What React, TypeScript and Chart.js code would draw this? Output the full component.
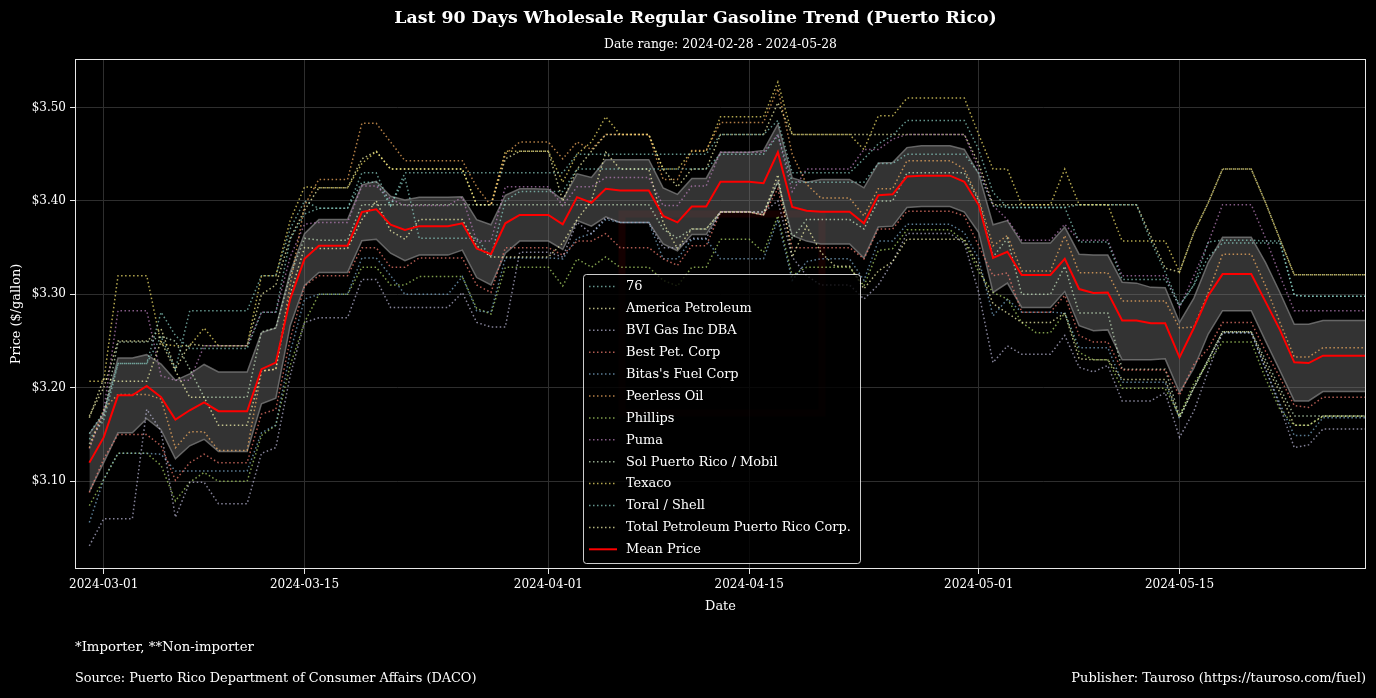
import React, { useEffect, useRef } from 'react';
import { Chart, registerables } from 'chart.js';

Chart.register(...registerables);

// ---------- data ----------
const AXIS_START = '2024-02-28';
const AXIS_END = '2024-05-28';
const FIRST_DATA_DATE = '2024-02-29';
const xTickDates = ['2024-03-01', '2024-03-15', '2024-04-01', '2024-04-15', '2024-05-01', '2024-05-15'];
const yTickValues = [3.1, 3.2, 3.3, 3.4, 3.5];
const Y_MIN = 3.0062;
const Y_MAX = 3.5518;

const companies = [
  '76', 'America Petroleum', 'BVI Gas Inc DBA', 'Best Pet. Corp', "Bitas's Fuel Corp", 'Peerless Oil',
  'Phillips', 'Puma', 'Sol Puerto Rico / Mobil', 'Texaco', 'Toral / Shell', 'Total Petroleum Puerto Rico Corp.',
];
const companyColors = [
  '#8dd3c7', '#ffffb3', '#bebada', '#fb8072', '#80b1d3', '#fdb462',
  '#b3de69', '#bc80bd', '#ccebc5', '#ffed6f', '#8dd3c7', '#ffffb3',
];

const price76 = [
  3.151, 3.174, 3.226, 3.226, 3.226, 3.281, 3.256, 3.242, 3.242, 3.242, 3.242, 3.242, 3.281, 3.281, 3.359, 3.386,
  3.392, 3.392, 3.392, 3.430, 3.430, 3.395, 3.430, 3.430, 3.430, 3.430, 3.430, 3.430, 3.430, 3.430, 3.430, 3.430, 3.430,
  3.430, 3.450, 3.450, 3.450, 3.450, 3.450, 3.450, 3.450, 3.450, 3.450, 3.450, 3.471, 3.471, 3.471, 3.471, 3.486, 3.430,
  3.430, 3.430, 3.430, 3.430, 3.445, 3.461, 3.470, 3.486, 3.486, 3.486, 3.486, 3.486, 3.455, 3.409, 3.393,
  3.393, 3.393, 3.393, 3.393, 3.356, 3.356, 3.356, 3.316, 3.316, 3.316, 3.316, 3.288, 3.310,
  3.356, 3.358, 3.358, 3.358, 3.357, 3.357, 3.299, 3.298, 3.298, 3.298, 3.298, 3.298,
];
const priceAmerica = [
  3.168, 3.210, 3.207, 3.207, 3.207, 3.250, 3.218, 3.190, 3.190, 3.160, 3.160, 3.160, 3.218, 3.220, 3.300, 3.350,
  3.349, 3.349, 3.349, 3.380, 3.400, 3.368, 3.359, 3.380, 3.380, 3.380, 3.380, 3.352, 3.340, 3.340, 3.340, 3.340, 3.340,
  3.355, 3.380, 3.400, 3.452, 3.434, 3.434, 3.434, 3.377, 3.349, 3.370, 3.370, 3.388, 3.388, 3.388, 3.385, 3.428, 3.340,
  3.373, 3.345, 3.330, 3.330, 3.306, 3.325, 3.335, 3.359, 3.359, 3.359, 3.359, 3.359, 3.330, 3.290, 3.280,
  3.270, 3.270, 3.270, 3.280, 3.231, 3.230, 3.230, 3.209, 3.209, 3.209, 3.209, 3.168, 3.200,
  3.230, 3.260, 3.260, 3.260, 3.225, 3.195, 3.160, 3.160, 3.170, 3.170, 3.170, 3.170,
];
const priceBVI = [
  3.031, 3.060, 3.060, 3.060, 3.177, 3.154, 3.0615, 3.099, 3.099, 3.076, 3.076, 3.076, 3.130, 3.136, 3.213, 3.270,
  3.275, 3.275, 3.275, 3.316, 3.316, 3.286, 3.286, 3.286, 3.286, 3.286, 3.302, 3.270, 3.265, 3.265, 3.345, 3.345, 3.345,
  3.340, 3.377, 3.365, 3.382, 3.377, 3.377, 3.377, 3.350, 3.350, 3.360, 3.360, 3.388, 3.388, 3.388, 3.388, 3.400, 3.340,
  3.320, 3.310, 3.310, 3.310, 3.295, 3.310, 3.335, 3.365, 3.365, 3.365, 3.365, 3.355, 3.302, 3.227, 3.245,
  3.236, 3.236, 3.236, 3.256, 3.222, 3.217, 3.224, 3.186, 3.186, 3.186, 3.195, 3.147, 3.175,
  3.218, 3.259, 3.259, 3.259, 3.220, 3.180, 3.136, 3.139, 3.156, 3.156, 3.156, 3.156,
];
const priceBest = [
  3.088, 3.124, 3.150, 3.150, 3.150, 3.138, 3.101, 3.120, 3.129, 3.120, 3.120, 3.120, 3.172, 3.177, 3.252, 3.309,
  3.320, 3.320, 3.320, 3.350, 3.350, 3.329, 3.329, 3.339, 3.339, 3.339, 3.339, 3.310, 3.302, 3.350, 3.350, 3.350, 3.350,
  3.342, 3.357, 3.357, 3.365, 3.350, 3.350, 3.350, 3.338, 3.331, 3.352, 3.352, 3.388, 3.388, 3.388, 3.385, 3.413, 3.350,
  3.350, 3.350, 3.350, 3.350, 3.338, 3.370, 3.370, 3.389, 3.389, 3.389, 3.389, 3.384, 3.352, 3.320, 3.323,
  3.281, 3.281, 3.281, 3.299, 3.256, 3.249, 3.249, 3.219, 3.219, 3.219, 3.219, 3.192, 3.225,
  3.242, 3.270, 3.270, 3.270, 3.239, 3.211, 3.181, 3.179, 3.190, 3.190, 3.190, 3.190,
];
const priceBitas = [
  3.056, 3.102, 3.130, 3.130, 3.130, 3.129, 3.111, 3.111, 3.111, 3.111, 3.111, 3.111, 3.152, 3.160, 3.238, 3.295,
  3.300, 3.300, 3.300, 3.339, 3.339, 3.320, 3.300, 3.300, 3.300, 3.300, 3.319, 3.2825, 3.281, 3.339, 3.339, 3.339, 3.339,
  3.338, 3.360, 3.365, 3.380, 3.377, 3.377, 3.377, 3.338, 3.338, 3.359, 3.359, 3.338, 3.338, 3.338, 3.338, 3.380, 3.315,
  3.335, 3.338, 3.338, 3.338, 3.315, 3.357, 3.357, 3.375, 3.375, 3.375, 3.375, 3.366, 3.338, 3.277, 3.295,
  3.281, 3.281, 3.281, 3.280, 3.243, 3.243, 3.243, 3.206, 3.206, 3.206, 3.206, 3.167, 3.200,
  3.230, 3.259, 3.259, 3.259, 3.220, 3.183, 3.149, 3.149, 3.168, 3.168, 3.168, 3.168,
];
const pricePeerless = [
  3.136, 3.177, 3.193, 3.193, 3.193, 3.188, 3.136, 3.153, 3.153, 3.133, 3.133, 3.133, 3.218, 3.220, 3.310, 3.395,
  3.423, 3.423, 3.423, 3.483, 3.483, 3.463, 3.443, 3.443, 3.443, 3.443, 3.443, 3.415, 3.395, 3.450, 3.463, 3.463, 3.463,
  3.445, 3.463, 3.455, 3.471, 3.471, 3.471, 3.471, 3.423, 3.423, 3.454, 3.454, 3.484, 3.484, 3.484, 3.484, 3.520, 3.450,
  3.418, 3.403, 3.403, 3.403, 3.384, 3.413, 3.413, 3.443, 3.443, 3.443, 3.443, 3.434, 3.402, 3.352, 3.363,
  3.325, 3.325, 3.325, 3.363, 3.323, 3.323, 3.323, 3.293, 3.293, 3.293, 3.293, 3.264, 3.265,
  3.302, 3.343, 3.343, 3.343, 3.309, 3.270, 3.233, 3.233, 3.243, 3.243, 3.243, 3.243,
];
const pricePhillips = [
  3.074, 3.102, 3.130, 3.130, 3.130, 3.117, 3.079, 3.099, 3.1095, 3.100, 3.100, 3.100, 3.149, 3.160, 3.224, 3.270,
  3.300, 3.300, 3.300, 3.329, 3.329, 3.310, 3.310, 3.319, 3.319, 3.319, 3.319, 3.285, 3.279, 3.329, 3.329, 3.329, 3.329,
  3.309, 3.338, 3.329, 3.340, 3.329, 3.329, 3.329, 3.315, 3.309, 3.329, 3.329, 3.359, 3.359, 3.359, 3.345, 3.384, 3.320,
  3.329, 3.329, 3.329, 3.329, 3.309, 3.347, 3.349, 3.369, 3.369, 3.369, 3.369, 3.357, 3.324, 3.302, 3.295,
  3.270, 3.259, 3.259, 3.280, 3.238, 3.230, 3.230, 3.1995, 3.1995, 3.1995, 3.1995, 3.170, 3.205,
  3.227, 3.249, 3.249, 3.249, 3.210, 3.177, 3.160, 3.160, 3.1695, 3.1695, 3.1695, 3.1695,
];
const pricePuma = [
  3.135, 3.175, 3.2825, 3.2825, 3.2825, 3.213, 3.208, 3.208, 3.245, 3.245, 3.245, 3.245, 3.281, 3.281, 3.340, 3.375,
  3.377, 3.377, 3.377, 3.416, 3.416, 3.402, 3.395, 3.395, 3.395, 3.395, 3.404, 3.357, 3.357, 3.415, 3.415, 3.415, 3.415,
  3.395, 3.415, 3.415, 3.425, 3.425, 3.425, 3.425, 3.395, 3.395, 3.416, 3.416, 3.452, 3.452, 3.452, 3.452, 3.471, 3.410,
  3.434, 3.434, 3.434, 3.434, 3.455, 3.455, 3.466, 3.471, 3.471, 3.471, 3.471, 3.471, 3.434, 3.395, 3.380,
  3.358, 3.358, 3.358, 3.375, 3.358, 3.358, 3.358, 3.320, 3.320, 3.320, 3.320, 3.286, 3.320,
  3.355, 3.396, 3.396, 3.396, 3.360, 3.320, 3.2825, 3.2825, 3.2825, 3.2825, 3.2825, 3.2825,
];
const priceSol = [
  3.140, 3.170, 3.249, 3.249, 3.249, 3.255, 3.250, 3.220, 3.190, 3.190, 3.190, 3.190, 3.260, 3.264, 3.320, 3.360,
  3.358, 3.358, 3.358, 3.396, 3.396, 3.396, 3.396, 3.396, 3.396, 3.396, 3.396, 3.396, 3.396, 3.396, 3.396, 3.396, 3.396,
  3.396, 3.396, 3.396, 3.396, 3.396, 3.396, 3.396, 3.370, 3.360, 3.370, 3.370, 3.388, 3.388, 3.388, 3.388, 3.420, 3.360,
  3.380, 3.380, 3.380, 3.380, 3.370, 3.400, 3.400, 3.430, 3.430, 3.430, 3.430, 3.430, 3.400, 3.340, 3.360,
  3.300, 3.300, 3.300, 3.330, 3.280, 3.280, 3.280, 3.220, 3.220, 3.220, 3.220, 3.170, 3.200,
  3.230, 3.260, 3.260, 3.260, 3.230, 3.200, 3.170, 3.170, 3.170, 3.170, 3.170, 3.170,
];
const priceTexaco = [
  3.207, 3.207, 3.320, 3.320, 3.320, 3.247, 3.245, 3.245, 3.264, 3.245, 3.245, 3.245, 3.320, 3.320, 3.379, 3.415,
  3.414, 3.414, 3.414, 3.440, 3.453, 3.434, 3.434, 3.434, 3.434, 3.434, 3.434, 3.396, 3.396, 3.453, 3.453, 3.453, 3.453,
  3.420, 3.450, 3.463, 3.490, 3.471, 3.471, 3.471, 3.434, 3.434, 3.453, 3.453, 3.490, 3.490, 3.490, 3.490, 3.527, 3.471,
  3.471, 3.471, 3.471, 3.471, 3.455, 3.491, 3.491, 3.510, 3.510, 3.510, 3.510, 3.510, 3.471, 3.434, 3.434,
  3.396, 3.396, 3.396, 3.434, 3.396, 3.396, 3.396, 3.357, 3.357, 3.357, 3.357, 3.324, 3.366,
  3.398, 3.434, 3.434, 3.434, 3.398, 3.359, 3.321, 3.321, 3.321, 3.321, 3.321, 3.321,
];
const priceToral = [
  3.145, 3.165, 3.226, 3.226, 3.226, 3.255, 3.220, 3.2825, 3.2825, 3.2825, 3.2825, 3.2825, 3.320, 3.320, 3.370, 3.400,
  3.392, 3.392, 3.392, 3.420, 3.420, 3.395, 3.425, 3.360, 3.360, 3.360, 3.360, 3.360, 3.340, 3.400, 3.410, 3.410, 3.410,
  3.410, 3.434, 3.434, 3.434, 3.434, 3.434, 3.434, 3.434, 3.434, 3.434, 3.434, 3.450, 3.450, 3.450, 3.450, 3.470, 3.420,
  3.420, 3.420, 3.420, 3.420, 3.420, 3.440, 3.440, 3.450, 3.450, 3.450, 3.450, 3.450, 3.430, 3.395, 3.393,
  3.393, 3.393, 3.393, 3.393, 3.396, 3.396, 3.396, 3.396, 3.396, 3.357, 3.324, 3.288, 3.310,
  3.340, 3.355, 3.355, 3.355, 3.355, 3.355, 3.299, 3.298, 3.298, 3.298, 3.298, 3.298,
];
const priceTotal = [
  3.170, 3.200, 3.250, 3.250, 3.250, 3.263, 3.220, 3.247, 3.245, 3.245, 3.245, 3.245, 3.300, 3.310, 3.360, 3.390,
  3.414, 3.414, 3.414, 3.445, 3.453, 3.434, 3.434, 3.434, 3.434, 3.434, 3.434, 3.396, 3.396, 3.445, 3.453, 3.453, 3.453,
  3.400, 3.434, 3.453, 3.471, 3.471, 3.471, 3.471, 3.434, 3.415, 3.434, 3.434, 3.471, 3.471, 3.471, 3.471, 3.505, 3.471,
  3.471, 3.471, 3.471, 3.471, 3.471, 3.471, 3.471, 3.471, 3.471, 3.471, 3.471, 3.471, 3.440, 3.396, 3.396,
  3.396, 3.396, 3.396, 3.396, 3.396, 3.396, 3.396, 3.396, 3.396, 3.362, 3.328, 3.324, 3.366,
  3.398, 3.434, 3.434, 3.434, 3.398, 3.359, 3.321, 3.321, 3.321, 3.321, 3.321, 3.321,
];

const meanPrice = [
  3.120, 3.147, 3.192, 3.192, 3.202, 3.190, 3.166, 3.176, 3.1845, 3.175, 3.175, 3.175, 3.220, 3.227, 3.295, 3.338,
  3.352, 3.352, 3.352, 3.388, 3.391, 3.3745, 3.369, 3.373, 3.373, 3.373, 3.376, 3.349, 3.343, 3.376, 3.385, 3.385, 3.385,
  3.375, 3.404, 3.398, 3.413, 3.411, 3.411, 3.411, 3.384, 3.377, 3.394, 3.394, 3.4205, 3.4205, 3.4205, 3.419, 3.452, 3.3935,
  3.3895, 3.3884, 3.3884, 3.3884, 3.376, 3.406, 3.407, 3.426, 3.427, 3.427, 3.427, 3.4205, 3.3955, 3.339, 3.3456,
  3.3207, 3.3207, 3.3207, 3.338, 3.3057, 3.3014, 3.302, 3.272, 3.272, 3.269, 3.269, 3.2326, 3.264,
  3.2986, 3.3217, 3.3217, 3.3217, 3.292, 3.262, 3.2273, 3.2265, 3.2344, 3.2344, 3.2344, 3.2344,
];
const bandUpper = [
  3.151, 3.172, 3.232, 3.232, 3.2355, 3.2255, 3.208, 3.215, 3.225, 3.217, 3.217, 3.217, 3.259, 3.264, 3.3235, 3.365,
  3.380, 3.380, 3.380, 3.417, 3.421, 3.405, 3.401, 3.404, 3.404, 3.404, 3.4045, 3.380, 3.3745, 3.406, 3.413, 3.413, 3.4125,
  3.401, 3.429, 3.425, 3.444, 3.444, 3.444, 3.444, 3.414, 3.407, 3.424, 3.424, 3.452, 3.452, 3.452, 3.454, 3.482, 3.4245,
  3.420, 3.423, 3.423, 3.423, 3.414, 3.4405, 3.441, 3.457, 3.459, 3.459, 3.459, 3.455, 3.429, 3.3745, 3.379,
  3.355, 3.355, 3.355, 3.372, 3.343, 3.342, 3.342, 3.313, 3.312, 3.3075, 3.307, 3.270, 3.296,
  3.334, 3.361, 3.361, 3.361, 3.334, 3.302, 3.268, 3.268, 3.272, 3.272, 3.272, 3.272,
];
const bandLower = [
  3.089, 3.120, 3.152, 3.152, 3.167, 3.155, 3.124, 3.138, 3.145, 3.132, 3.132, 3.132, 3.183, 3.189, 3.2665, 3.3095,
  3.3235, 3.3235, 3.3235, 3.3574, 3.359, 3.344, 3.336, 3.342, 3.342, 3.342, 3.3474, 3.318, 3.310, 3.344, 3.357, 3.357, 3.357,
  3.348, 3.379, 3.373, 3.383, 3.377, 3.377, 3.377, 3.354, 3.3467, 3.364, 3.364, 3.3884, 3.3884, 3.3884, 3.385, 3.421, 3.363,
  3.357, 3.354, 3.354, 3.354, 3.339, 3.372, 3.373, 3.393, 3.394, 3.394, 3.394, 3.388, 3.366, 3.302, 3.312,
  3.286, 3.286, 3.286, 3.303, 3.2665, 3.261, 3.262, 3.230, 3.230, 3.230, 3.231, 3.195, 3.221,
  3.2576, 3.2825, 3.2825, 3.2825, 3.250, 3.2184, 3.186, 3.186, 3.196, 3.196, 3.196, 3.196,
];

const companyPrices = [
  price76, priceAmerica, priceBVI, priceBest, priceBitas, pricePeerless,
  pricePhillips, pricePuma, priceSol, priceTexaco, priceToral, priceTotal,
];

const TITLE = 'Last 90 Days Wholesale Regular Gasoline Trend (Puerto Rico)';
const SUBTITLE = `Date range: ${AXIS_START} - ${AXIS_END}`;
const NOTE = '*Importer, **Non-importer';
const SOURCE = 'Source: Puerto Rico Department of Consumer Affairs (DACO)';
const PUBLISHER = 'Publisher: Tauroso (https://tauroso.com/fuel)';

// ---------- helpers ----------
const FONT = '"DejaVu Serif", serif';
const DAY_MS = 86400000;
const dayOffset = (d: string) => Math.round((Date.parse(d) - Date.parse(AXIS_START)) / DAY_MS);

function fitSize(text: string, width: number, weight = 'normal') {
  const ctx = document.createElement('canvas').getContext('2d') as CanvasRenderingContext2D;
  ctx.font = `${weight} 100px ${FONT}`;
  return (100 * width) / ctx.measureText(text).width;
}

function withAlpha(hex: string, a: number) {
  const r = parseInt(hex.slice(1, 3), 16);
  const g = parseInt(hex.slice(3, 5), 16);
  const b = parseInt(hex.slice(5, 7), 16);
  return `rgba(${r},${g},${b},${a})`;
}

const toPoints = (arr: number[]) => {
  const first = dayOffset(FIRST_DATA_DATE);
  return arr.map((y, i) => ({ x: first + i, y }));
};

export default function App() {
  const ref = useRef<HTMLCanvasElement | null>(null);

  useEffect(() => {
    document.body.style.margin = '0';
    document.body.style.background = '#000';
    const canvas = ref.current;
    if (!canvas) return;

    const tickSize = 12;
    const titleSize = fitSize(TITLE, 603, 'bold');
    const subSize = fitSize(SUBTITLE, 233);
    const sourceSize = fitSize(SOURCE, 402);
    const noteSize = fitSize(NOTE, 179);
    const pubSize = fitSize(PUBLISHER, 295);
    const legendSize = fitSize(companies[11], 225);
    const labelSize = sourceSize;

    const lineDash = [1.5, 2.5];
    const seriesSets = companies.map((name, i) => ({
      label: name,
      data: toPoints(companyPrices[i]),
      borderColor: withAlpha(companyColors[i], 0.7),
      borderWidth: 1.5,
      borderDash: lineDash,
      pointRadius: 0,
      fill: false,
      tension: 0,
      order: 1,
    }));

    const meanSet = {
      label: 'Mean Price',
      data: toPoints(meanPrice),
      borderColor: '#ff0000',
      borderWidth: 2,
      pointRadius: 0,
      fill: false,
      tension: 0,
      order: 0,
    };
    const datasets: any[] = [meanSet, ...seriesSets];
    const lowerIndex = datasets.length + 1;
    datasets.push({
      label: 'band-upper',
      data: toPoints(bandUpper),
      borderColor: 'rgba(128,128,128,0.75)',
      borderWidth: 1.5,
      backgroundColor: 'rgba(128,128,128,0.4)',
      pointRadius: 0,
      fill: lowerIndex,
      tension: 0,
      order: 2,
    });
    datasets.push({
      label: 'band-lower',
      data: toPoints(bandLower),
      borderColor: 'rgba(128,128,128,0.75)',
      borderWidth: 1.5,
      pointRadius: 0,
      fill: false,
      tension: 0,
      order: 2,
    });

    const decor = {
      id: 'decor',
      beforeDraw(chart: any) {
        const { ctx } = chart;
        ctx.save();
        ctx.fillStyle = '#000';
        ctx.fillRect(0, 0, chart.width, chart.height);
        ctx.restore();
      },
      beforeDatasetsDraw(chart: any) {
        const { ctx } = chart;
        ctx.save();
        ctx.strokeStyle = 'rgba(255,0,0,0.08)';
        ctx.lineWidth = 7;
        ctx.strokeRect(622, 214, 200, 199);
        ctx.restore();
      },
      afterDatasetsDraw(chart: any) {
        const { ctx, chartArea: ca } = chart;
        ctx.save();
        ctx.strokeStyle = '#e8e8e8';
        ctx.lineWidth = 1;
        ctx.strokeRect(ca.left + 0.5, ca.top + 0.5, ca.right - ca.left - 1, ca.bottom - ca.top - 1);

        // legend
        const lx = 583.5, ly = 274.5, lw = 277, lh = 289, r = 3;
        ctx.beginPath();
        ctx.moveTo(lx + r, ly);
        ctx.lineTo(lx + lw - r, ly);
        ctx.quadraticCurveTo(lx + lw, ly, lx + lw, ly + r);
        ctx.lineTo(lx + lw, ly + lh - r);
        ctx.quadraticCurveTo(lx + lw, ly + lh, lx + lw - r, ly + lh);
        ctx.lineTo(lx + r, ly + lh);
        ctx.quadraticCurveTo(lx, ly + lh, lx, ly + lh - r);
        ctx.lineTo(lx, ly + r);
        ctx.quadraticCurveTo(lx, ly, lx + r, ly);
        ctx.closePath();
        ctx.fillStyle = 'rgba(0,0,0,0.8)';
        ctx.fill();
        ctx.strokeStyle = 'rgba(255,255,255,0.8)';
        ctx.stroke();

        const names = [...companies, 'Mean Price'];
        ctx.font = `${legendSize}px ${FONT}`;
        ctx.textBaseline = 'middle';
        ctx.textAlign = 'left';
        names.forEach((name, i) => {
          const y = 286 + i * 21.9;
          ctx.beginPath();
          if (i < companies.length) {
            ctx.setLineDash(lineDash);
            ctx.strokeStyle = withAlpha(companyColors[i], 0.7);
            ctx.lineWidth = 1.5;
          } else {
            ctx.setLineDash([]);
            ctx.strokeStyle = '#ff0000';
            ctx.lineWidth = 2;
          }
          ctx.moveTo(589, y + 0.5);
          ctx.lineTo(617, y + 0.5);
          ctx.stroke();
          ctx.setLineDash([]);
          ctx.fillStyle = '#ffffff';
          ctx.fillText(name, 626, y + 1);
        });
        ctx.restore();
      },
      afterDraw(chart: any) {
        const { ctx, chartArea: ca } = chart;
        const cx = (ca.left + ca.right) / 2;
        ctx.save();
        ctx.fillStyle = '#ffffff';
        ctx.textBaseline = 'middle';
        ctx.textAlign = 'center';
        ctx.font = `bold ${titleSize}px ${FONT}`;
        ctx.fillText(TITLE, 695.5, 18);
        ctx.font = `${subSize}px ${FONT}`;
        ctx.fillText(SUBTITLE, cx, 45);
        ctx.font = `${labelSize}px ${FONT}`;
        ctx.fillText('Date', cx, 607);
        ctx.save();
        ctx.translate(17, (ca.top + ca.bottom) / 2);
        ctx.rotate(-Math.PI / 2);
        ctx.font = `${labelSize}px ${FONT}`;
        ctx.fillText('Price ($/gallon)', 0, 0);
        ctx.restore();
        ctx.textAlign = 'left';
        ctx.font = `${noteSize}px ${FONT}`;
        ctx.fillText(NOTE, 75, 648);
        ctx.font = `${sourceSize}px ${FONT}`;
        ctx.fillText(SOURCE, 75, 679);
        ctx.textAlign = 'right';
        ctx.font = `${pubSize}px ${FONT}`;
        ctx.fillText(PUBLISHER, 1366, 679);
        ctx.restore();
      },
    };

    const chart = new Chart(canvas, {
      type: 'line',
      data: { datasets },
      options: {
        animation: false,
        responsive: false,
        maintainAspectRatio: false,
        devicePixelRatio: 1,
        layout: { padding: { top: 59, right: 10, bottom: 0, left: 0 } },
        scales: {
          x: {
            type: 'linear',
            min: dayOffset(AXIS_START),
            max: dayOffset(AXIS_END),
            afterBuildTicks: (s: any) => {
              s.ticks = xTickDates.map((d) => ({ value: dayOffset(d) }));
            },
            afterFit: (s: any) => {
              s.height = 129;
            },
            ticks: {
              autoSkip: false,
              maxRotation: 0,
              color: '#ffffff',
              padding: 4,
              font: { family: FONT, size: tickSize },
              callback: (_v: any, i: number) => xTickDates[i],
            },
            grid: { color: '#2e2e2e', lineWidth: 1, tickColor: '#e8e8e8', tickLength: 5 },
            border: { display: false },
          },
          y: {
            type: 'linear',
            min: Y_MIN,
            max: Y_MAX,
            afterBuildTicks: (s: any) => {
              s.ticks = yTickValues.map((v) => ({ value: v }));
            },
            afterFit: (s: any) => {
              s.width = 75;
            },
            ticks: {
              color: '#ffffff',
              padding: 4,
              font: { family: FONT, size: tickSize },
              callback: (v: any) => '$' + Number(v).toFixed(2),
            },
            grid: { color: '#2e2e2e', lineWidth: 1, tickColor: '#e8e8e8', tickLength: 5 },
            border: { display: false },
          },
        },
        plugins: {
          legend: { display: false },
          tooltip: { enabled: false },
          title: { display: false },
        },
      } as any,
      plugins: [decor],
    });

    return () => chart.destroy();
  }, []);

  return (
    <div style={{ position: 'fixed', left: 0, top: 0, width: 1376, height: 698, background: '#000' }}>
      <canvas ref={ref} width={1376} height={698} style={{ display: 'block', width: 1376, height: 698 }} />
    </div>
  );
}
